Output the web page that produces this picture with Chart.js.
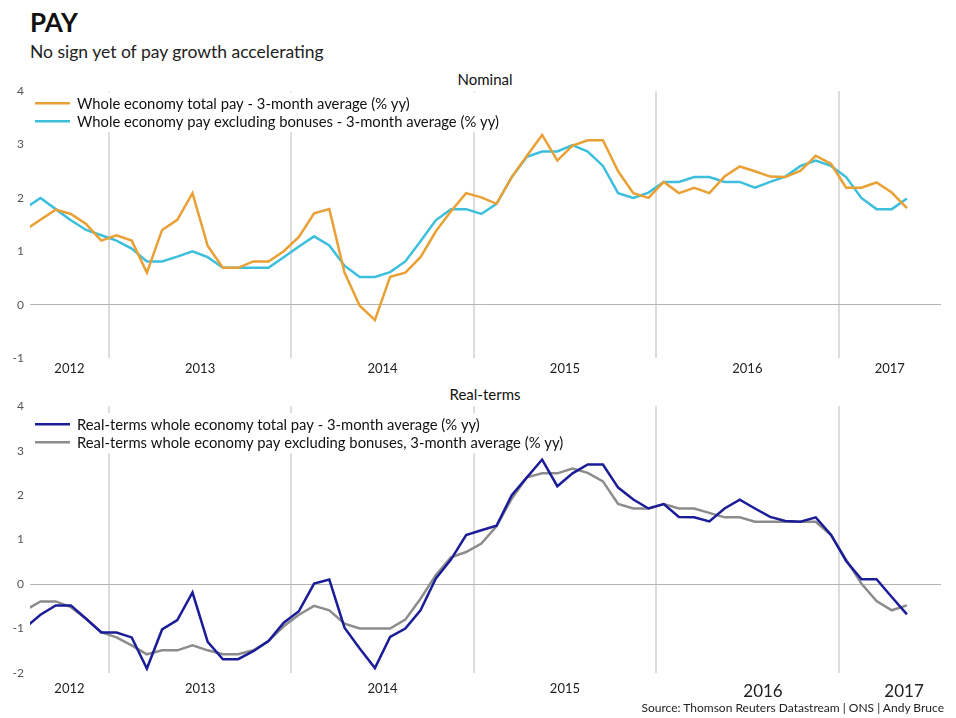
<!DOCTYPE html>
<html><head><meta charset="utf-8">
<script src="https://cdn.jsdelivr.net/npm/chart.js@4.4.1/dist/chart.umd.min.js"></script>
<style>
html,body{margin:0;padding:0;background:#fff;width:956px;height:718px;overflow:hidden;font-family:Lato,"Open Sans",sans-serif;}
.t{position:absolute;white-space:nowrap;color:#111;line-height:1;}
.cw{position:absolute;left:0;width:956px;}
</style></head>
<body>
<div class="t" style="left:30px;top:9px;font-size:26px;font-weight:bold;">PAY</div>
<div class="t" style="left:30px;top:43px;font-size:17.5px;color:#222;">No sign yet of pay growth accelerating</div>
<div class="t" style="left:485px;top:72px;font-size:15px;transform:translateX(-50%);">Nominal</div>
<div class="t" style="left:485px;top:387px;font-size:15px;transform:translateX(-50%);">Real-terms</div>
<div class="cw" style="top:78px;height:302px;"><canvas id="c1"></canvas></div>
<div class="cw" style="top:393px;height:315px;"><canvas id="c2"></canvas></div>
<div class="t" style="right:12px;top:702px;font-size:12px;color:#222;z-index:5;">Source: Thomson Reuters Datastream | ONS | Andy Bruce</div>
<script>
const months = [
 'Jul 2012','Aug 2012','Sep 2012','Oct 2012','Nov 2012','Dec 2012',
 'Jan 2013','Feb 2013','Mar 2013','Apr 2013','May 2013','Jun 2013','Jul 2013','Aug 2013','Sep 2013','Oct 2013','Nov 2013','Dec 2013',
 'Jan 2014','Feb 2014','Mar 2014','Apr 2014','May 2014','Jun 2014','Jul 2014','Aug 2014','Sep 2014','Oct 2014','Nov 2014','Dec 2014',
 'Jan 2015','Feb 2015','Mar 2015','Apr 2015','May 2015','Jun 2015','Jul 2015','Aug 2015','Sep 2015','Oct 2015','Nov 2015','Dec 2015',
 'Jan 2016','Feb 2016','Mar 2016','Apr 2016','May 2016','Jun 2016','Jul 2016','Aug 2016','Sep 2016','Oct 2016','Nov 2016','Dec 2016',
 'Jan 2017','Feb 2017','Mar 2017','Apr 2017','May 2017'];

const nominalTotal = [1.40,1.59,1.78,1.70,1.51,1.20,1.30,1.20,0.60,1.40,1.59,2.09,1.10,0.69,0.69,0.81,0.81,1.00,1.27,1.71,1.79,0.60,-0.02,-0.29,0.52,0.60,0.89,1.37,1.75,2.09,2.01,1.89,2.39,2.79,3.18,2.70,2.98,3.08,3.08,2.50,2.09,2.00,2.30,2.09,2.19,2.09,2.40,2.59,2.50,2.40,2.39,2.51,2.79,2.64,2.19,2.19,2.29,2.10,1.81];
const nominalRegular = [1.81,2.00,1.79,1.58,1.40,1.30,1.20,1.05,0.81,0.81,0.90,1.00,0.89,0.69,0.69,0.69,0.69,0.89,1.09,1.28,1.11,0.73,0.52,0.52,0.61,0.81,1.19,1.58,1.79,1.79,1.70,1.89,2.39,2.77,2.87,2.87,2.99,2.87,2.60,2.09,2.00,2.10,2.30,2.30,2.39,2.39,2.30,2.30,2.19,2.30,2.40,2.60,2.70,2.60,2.39,2.00,1.79,1.79,1.99];
const realTotal = [-0.98,-0.69,-0.48,-0.48,-0.78,-1.09,-1.09,-1.20,-1.90,-1.02,-0.81,-0.19,-1.30,-1.69,-1.69,-1.51,-1.28,-0.87,-0.61,0.01,0.10,-0.98,-1.45,-1.89,-1.19,-1.00,-0.59,0.12,0.55,1.10,1.21,1.31,2.00,2.40,2.80,2.20,2.49,2.69,2.69,2.17,1.90,1.70,1.80,1.51,1.50,1.41,1.70,1.90,1.70,1.51,1.42,1.40,1.50,1.11,0.52,0.11,0.11,-0.29,-0.68];
const realRegular = [-0.59,-0.39,-0.39,-0.52,-0.78,-1.08,-1.20,-1.38,-1.58,-1.49,-1.49,-1.38,-1.49,-1.58,-1.58,-1.49,-1.28,-0.95,-0.69,-0.49,-0.59,-0.89,-1.00,-1.00,-1.00,-0.80,-0.33,0.20,0.60,0.72,0.91,1.30,1.92,2.40,2.49,2.49,2.60,2.50,2.31,1.80,1.70,1.70,1.80,1.70,1.70,1.60,1.50,1.50,1.40,1.40,1.40,1.40,1.40,1.10,0.55,0.01,-0.38,-0.59,-0.48];

const yearLabels = ['2012','2013','2014','2015','2016','2017'];
const nominalTicks = [-1,0,1,2,3,4];
const realTicks = [-2,-1,0,1,2,3,4];

const X_MIN = 0.31, X_MAX = 60.24;
const boundaries = months.map((m,i)=>m.startsWith('Jan') ? i-0.5 : null).filter(v=>v!==null);
const edges = [X_MIN, ...boundaries, X_MAX];
const labelPos = yearLabels.map((y,i)=>(edges[i]+edges[i+1])/2);

function pts(arr){ return arr.map((v,i)=>({x:i, y:v})); }

const LEGEND_FONT = '14.8px Lato';
const boxLegend = {
  id:'boxLegend',
  beforeDatasetsDraw(chart, args, opts){
    const ctx = chart.ctx, a = chart.chartArea;
    ctx.save();
    ctx.font = LEGEND_FONT;
    let maxW = 0;
    chart.data.datasets.forEach(d=>{ maxW = Math.max(maxW, ctx.measureText(d.label).width); });
    const n = chart.data.datasets.length;
    const y1 = a.top + opts.offset;
    ctx.fillStyle = '#fff';
    ctx.fillRect(a.left + 3, y1 - 11, 47 + maxW + 4, opts.gap*(n-1) + 22);
    ctx.restore();
  },
  afterDatasetsDraw(chart, args, opts){
    const ctx = chart.ctx, a = chart.chartArea;
    ctx.save();
    ctx.font = LEGEND_FONT;
    ctx.textBaseline = 'middle';
    chart.data.datasets.forEach((d,i)=>{
      const y = a.top + opts.offset + i*opts.gap;
      ctx.strokeStyle = d.borderColor; ctx.lineWidth = 2.5;
      ctx.beginPath(); ctx.moveTo(a.left+5, y); ctx.lineTo(a.left+40, y); ctx.stroke();
      ctx.fillStyle = '#111';
      ctx.fillText(d.label, a.left + 47, y + 1);
    });
    ctx.restore();
  }
};

function makeChart(id, sets, yMin, yMax, yTicks, legendOpts, padTop, xAxisH, xPad, labelNudge, bigLabels){
  const lp = labelPos.map((v,i)=>v + (labelNudge[yearLabels[i]]||0));
  const tickVals = [...boundaries, ...lp].sort((a,b)=>a-b);
  return new Chart(document.getElementById(id), {
    type:'line',
    data:{ datasets: sets.map(s=>({
      label:s.label, data:pts(s.data), borderColor:s.color, backgroundColor:s.color,
      borderWidth:2.5, pointRadius:0, tension:0, fill:false
    }))},
    options:{
      responsive:true, maintainAspectRatio:false, animation:false,
      layout:{padding:{top:padTop, right:15, left:0, bottom:0}},
      plugins:{legend:{display:false}, tooltip:{enabled:false}, boxLegend:legendOpts},
      scales:{
        x:{type:'linear', min:X_MIN, max:X_MAX,
          afterBuildTicks:s=>{ s.ticks = tickVals.map(v=>({value:v})); },
          afterFit:s=>{ s.height = xAxisH; },
          border:{display:false},
          grid:{drawTicks:false, lineWidth:2,
            color:c=> (c.tick && boundaries.includes(c.tick.value)) ? '#dcdcdc' : 'rgba(0,0,0,0)'},
          ticks:{autoSkip:false, maxRotation:0, padding:xPad, color:'#222',
            font:c=>{ const i = lp.indexOf(c.tick ? c.tick.value : NaN); const yl = yearLabels[i];
              return (bigLabels.includes(yl)) ? {family:'Lato', size:17} : {family:'Lato', size:13}; },
            callback:v=>{ const i = lp.indexOf(v); return i>=0 ? yearLabels[i] : ''; }}
        },
        y:{min:yMin, max:yMax,
          afterBuildTicks:s=>{ s.ticks = yTicks.map(v=>({value:v})); },
          afterFit:s=>{ s.width = 30; },
          border:{display:false},
          grid:{drawTicks:false, lineWidth:1,
            color:c=> (c.tick && c.tick.value===0) ? '#b4b4b4' : 'rgba(0,0,0,0)'},
          ticks:{padding:6, color:'#555', font:{family:'Lato', size:12},
            callback:v=>String(v)}
        }
      }
    },
    plugins:[boxLegend]
  });
}

makeChart('c1', [
  {label:'Whole economy total pay - 3-month average (% yy)', data:nominalTotal, color:'#e9a034'},
  {label:'Whole economy pay excluding bonuses - 3-month average (% yy)', data:nominalRegular, color:'#3cbfdd'}
], -1, 4, nominalTicks, {offset:12, gap:18}, 0, 22, 3, {}, []);

makeChart('c2', [
  {label:'Real-terms whole economy total pay - 3-month average (% yy)', data:realTotal, color:'#1a1c98'},
  {label:'Real-terms whole economy pay excluding bonuses, 3-month average (% yy)', data:realRegular, color:'#8c8c8c'}
], -2, 4, realTicks, {offset:18, gap:18}, 0, 35, 8, {'2016':1.03, '2017':0.94}, ['2016','2017']);
</script>
</body></html>
